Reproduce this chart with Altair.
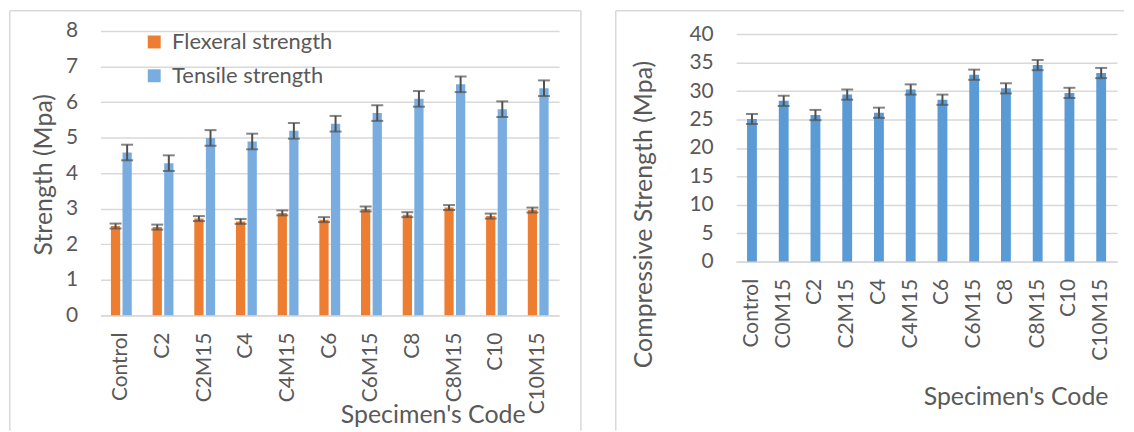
import altair as alt
import pandas as pd

# ---------------- data ----------------
codes_left = ["Control", "C2", "C2M15", "C4", "C4M15", "C6", "C6M15", "C8", "C8M15", "C10", "C10M15"]
series_names = ["Flexeral strength", "Tensile strength"]
flexural = [2.51, 2.48, 2.72, 2.64, 2.88, 2.69, 2.99, 2.83, 3.03, 2.79, 2.96]
flexural_err = [0.07, 0.07, 0.07, 0.07, 0.07, 0.07, 0.07, 0.07, 0.07, 0.07, 0.07]
tensile = [4.58, 4.28, 4.99, 4.89, 5.19, 5.39, 5.69, 6.09, 6.50, 5.80, 6.39]
tensile_err = [0.22, 0.22, 0.22, 0.22, 0.22, 0.22, 0.22, 0.22, 0.22, 0.22, 0.22]

codes_right = ["Control", "C0M15", "C2", "C2M15", "C4", "C4M15", "C6", "C6M15", "C8", "C8M15", "C10", "C10M15"]
compressive = [25.1, 28.3, 25.8, 29.4, 26.2, 30.3, 28.5, 32.9, 30.5, 34.6, 29.7, 33.2]
compressive_err = [0.9, 0.9, 0.9, 0.9, 0.9, 0.9, 0.9, 0.9, 0.9, 0.9, 0.9, 0.9]

# ---------------- style ----------------
FONT = "Lato"
TXT = "#595959"
GRID = "#D9D9D9"
ORANGE = "#ED7D31"
TBLUE = "#79ADDF"
BLUE = "#5B9BD5"
ERR = "#505050"

rows = []
for c, v, e in zip(codes_left, flexural, flexural_err):
    rows.append({"code": c, "series": series_names[0], "value": v, "lo": v - e, "hi": v + e})
for c, v, e in zip(codes_left, tensile, tensile_err):
    rows.append({"code": c, "series": series_names[1], "value": v, "lo": v - e, "hi": v + e})
left_df = pd.DataFrame(rows)

right_df = pd.DataFrame({
    "code": codes_right,
    "value": compressive,
    "lo": [v - e for v, e in zip(compressive, compressive_err)],
    "hi": [v + e for v, e in zip(compressive, compressive_err)],
})

frame_df = pd.DataFrame({"k": [0]})


def frame_lines(x_left, x_right, y_top, y_bottom, right_side):
    base = alt.Chart(frame_df).mark_rule(color=GRID, strokeWidth=1.5)
    parts = [
        base.encode(x=alt.value(x_left), x2=alt.value(x_right), y=alt.value(y_top)),
        base.encode(x=alt.value(x_left), y=alt.value(y_top), y2=alt.value(y_bottom)),
    ]
    if right_side:
        parts.append(base.encode(x=alt.value(x_right), y=alt.value(y_top), y2=alt.value(y_bottom)))
    return parts


# ---------------- left chart ----------------
W1, H1 = 461, 285.7
x_left = alt.X(
    "code:N", sort=codes_left,
    scale=alt.Scale(paddingInner=0.5, paddingOuter=0.25),
    axis=alt.Axis(title="Specimen's Code", labelAngle=-90, labelPadding=17, ticks=False, tickSize=0,
                  domainColor=GRID, domainWidth=1.5, labelOverlap=False,
                  titleX=334, titleY=100, titleAlign="center", titleBaseline="middle"),
)
xo_left = alt.XOffset("series:N", sort=series_names, scale=alt.Scale(paddingInner=0.2))
y_left_scale = alt.Scale(domain=[0, 8], nice=False)
y_left_axis = alt.Axis(title="Strength (Mpa)", values=list(range(0, 9)), ticks=False, tickSize=0,
                       domain=False, labelPadding=23, grid=True,
                       titleX=-57, titleY=144, titleAlign="center", titleBaseline="middle")

bars_left = alt.Chart(left_df).mark_bar().encode(
    x=x_left, xOffset=xo_left,
    y=alt.Y("value:Q", scale=y_left_scale, axis=y_left_axis),
    color=alt.Color("series:N", scale=alt.Scale(domain=series_names, range=[ORANGE, TBLUE]),
                    legend=alt.Legend(title=None, orient="none", legendX=43, legendY=0,
                                      symbolType="square", symbolSize=169, symbolStrokeWidth=0,
                                      rowPadding=12, labelOffset=7, padding=0, labelLimit=0)),
)
rules_left = alt.Chart(left_df).mark_rule(color=ERR, strokeWidth=2).encode(
    x=x_left, xOffset=xo_left,
    y=alt.Y("lo:Q", scale=y_left_scale, axis=y_left_axis), y2="hi:Q",
)
cap_lo_left = alt.Chart(left_df).mark_tick(color=ERR, thickness=2, size=12, orient="horizontal").encode(
    x=x_left, xOffset=xo_left, y=alt.Y("lo:Q", scale=y_left_scale, axis=y_left_axis),
)
cap_hi_left = alt.Chart(left_df).mark_tick(color=ERR, thickness=2, size=12, orient="horizontal").encode(
    x=x_left, xOffset=xo_left, y=alt.Y("hi:Q", scale=y_left_scale, axis=y_left_axis),
)
left = alt.layer(
    *frame_lines(-91.25, 483, -20.5, 402, True),
    bars_left, rules_left, cap_lo_left, cap_hi_left,
).properties(width=W1, height=H1)

# ---------------- right chart ----------------
W2, H2 = 383, 231.7
x_right = alt.X(
    "code:N", sort=codes_right,
    scale=alt.Scale(paddingInner=0.69, paddingOuter=0.345),
    axis=alt.Axis(title="Specimen's Code", labelAngle=-90, labelPadding=17, ticks=False, tickSize=0,
                  domainColor=GRID, domainWidth=1.5, labelOverlap=False,
                  titleX=281, titleY=136, titleAlign="center", titleBaseline="middle"),
)
y_right_scale = alt.Scale(domain=[0, 40.6], nice=False)
y_right_axis = alt.Axis(title="Compressive Strength (Mpa)", values=list(range(0, 41, 5)), ticks=False,
                        tickSize=0, domain=False, labelPadding=23, grid=True,
                        titleX=-93, titleY=184, titleAlign="center", titleBaseline="middle")

bars_right = alt.Chart(right_df).mark_bar(color=BLUE).encode(
    x=x_right, y=alt.Y("value:Q", scale=y_right_scale, axis=y_right_axis),
)
rules_right = alt.Chart(right_df).mark_rule(color=ERR, strokeWidth=2).encode(
    x=x_right, y=alt.Y("lo:Q", scale=y_right_scale, axis=y_right_axis), y2="hi:Q",
)
cap_lo_right = alt.Chart(right_df).mark_tick(color=ERR, thickness=2, size=12, orient="horizontal").encode(
    x=x_right, y=alt.Y("lo:Q", scale=y_right_scale, axis=y_right_axis),
)
cap_hi_right = alt.Chart(right_df).mark_tick(color=ERR, thickness=2, size=12, orient="horizontal").encode(
    x=x_right, y=alt.Y("hi:Q", scale=y_right_scale, axis=y_right_axis),
)
right = alt.layer(
    *frame_lines(-121, 390, -20.5, 402, False),
    bars_right, rules_right, cap_lo_right, cap_hi_right,
).properties(width=W2, height=H2)

chart = alt.hconcat(left, right, spacing=31).properties(
    padding={"left": 0, "top": 0, "right": 0, "bottom": 0}
).configure(
    padding={"left": 0, "top": 0, "right": 0, "bottom": 0}
).configure_view(
    stroke="transparent"
).configure_axis(
    labelFont=FONT, titleFont=FONT, labelColor=TXT, titleColor=TXT,
    labelFontSize=21, titleFontSize=25, titleFontWeight="normal",
    gridColor=GRID, gridWidth=1.5,
).configure_legend(
    labelFont=FONT, labelFontSize=22, labelColor=TXT,
)

chart.save("out.html", embed_options={"renderer": "svg", "actions": False})
